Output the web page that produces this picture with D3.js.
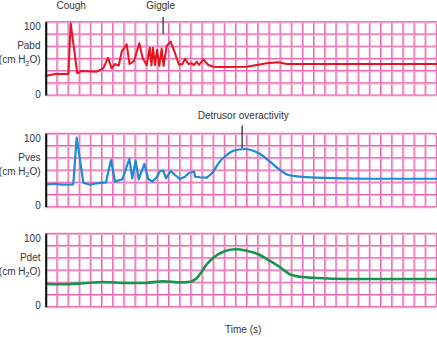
<!DOCTYPE html>
<html>
<head>
<meta charset="utf-8">
<script src="https://cdn.jsdelivr.net/npm/d3@7"></script>
<style>
  html, body { margin: 0; padding: 0; background: #fff; }
  svg { display: block; font-family: "Liberation Sans", Arial, sans-serif; }
</style>
</head>
<body>
<svg id="chart" width="437" height="337"></svg>
<script>
// Time axis: 35 grid divisions across the trace width
const timeDomain = [0, 35];
const pressureDomain = [0, 100];
const pressureTicks = [0, 100];

// Abdominal pressure [time, cmH2O]
const pabd = [
  [0, 25.9], [0.83, 28.6], [2.03, 28.6], [2.24, 97.8], [2.83, 29.6], [3.2, 32.7],
  [4.57, 31.8], [5.16, 36.4], [5.58, 50.9], [5.91, 36.4], [6.21, 42.3], [6.54, 40.0],
  [6.81, 59.1], [7.26, 69.2], [7.51, 42.3], [7.91, 46.4], [8.39, 70.5], [8.69, 50.1],
  [9.05, 40.9], [9.32, 64.5], [9.48, 40.2], [9.61, 64.5], [9.79, 40.9], [9.97, 61.4],
  [10.18, 39.6], [10.39, 63.4], [10.56, 39.6], [10.84, 66.8], [11.2, 72.7], [11.59, 56.9],
  [11.94, 41.3], [12.26, 42.3], [12.48, 49.5], [12.78, 42.3], [13.08, 43.2], [13.29, 40.9],
  [13.53, 45.4], [13.74, 40.9], [14.12, 48.7], [14.57, 40.9], [15.02, 38.6], [15.62, 38.2],
  [18.01, 38.6], [19.8, 43.2], [20.84, 44.6], [21.6, 42.3], [35, 42.3]
];

// Vesical pressure [time, cmH2O]
const pves = [
  [0.15, 30.5], [0.83, 31.3], [1.43, 30.0], [2.47, 30.5], [2.78, 94.0], [3.37, 32.7],
  [3.97, 30.0], [4.57, 31.9], [5.4, 33.2], [5.85, 63.6], [6.21, 34.1], [6.86, 37.3],
  [7.49, 65.0], [7.76, 38.7], [8.06, 62.7], [8.33, 37.3], [8.84, 58.2], [9.19, 37.7],
  [9.55, 34.1], [9.95, 40.1], [10.24, 48.6], [10.54, 49.0], [10.78, 38.7], [11.2, 48.6],
  [11.59, 43.2], [12.03, 37.7], [12.48, 40.9], [12.87, 46.3], [13.29, 47.7], [13.38, 40.9],
  [13.83, 40.1], [14.43, 39.5], [15.02, 47.7], [15.47, 59.1], [16.22, 70.4], [16.81, 76.3],
  [17.86, 78.6], [18.61, 76.3], [19.35, 70.4], [20.1, 61.3], [21.0, 50.0], [21.74, 43.2],
  [22.79, 40.9], [24.28, 39.5], [28.76, 38.1], [35, 38.1]
];

// Detrusor pressure [time, cmH2O]
const pdet = [
  [0.15, 30.9], [1.58, 30.5], [3.37, 31.9], [5.16, 33.7], [7.26, 32.3], [8.75, 32.3],
  [10.54, 34.6], [12.03, 33.2], [12.93, 34.1], [13.53, 38.7], [13.98, 47.7], [14.43, 57.8],
  [15.02, 66.8], [15.91, 74.9], [16.96, 78.2], [18.01, 76.3], [19.05, 71.4], [20.1, 62.3],
  [21.0, 53.7], [21.9, 44.1], [22.79, 40.9], [24.28, 39.1], [27.27, 37.7], [35, 37.7]
];

// smoothFrom: time after which the trace is drawn as a smooth curve (before it, straight segments)
const panels = [
  { name: "Pabd", data: pabd, top: 21.7, bottom: 95, color: "#e5141f", smoothFrom: 35, width: 2 },
  { name: "Pves", data: pves, top: 133.3, bottom: 206.7, color: "#1b8bd3", smoothFrom: 14.43, width: 2.2 },
  { name: "Pdet", data: pdet, top: 233.3, bottom: 306.7, color: "#14964a", smoothFrom: 0, width: 2.6 }
];

const svg = d3.select("#chart");
const x = d3.scaleLinear().domain(timeDomain).range([45.7, 436.3]);
const textColor = "#333";
const fontSize = "10px";

panels.forEach(p => {
  const y = d3.scaleLinear().domain(pressureDomain).range([p.bottom, p.top]);
  const g = svg.append("g");

  // chart-paper grid: soft pink band with a darker magenta core
  const vTicks = d3.range(timeDomain[0], timeDomain[1] + 1, 1);
  const hTicks = d3.range(0, 101, 100 / 6);
  const grid = g.append("g");
  grid.selectAll("line.vs").data(vTicks).join("line")
    .attr("x1", d => x(d) + 0.8).attr("x2", d => x(d) + 0.8)
    .attr("y1", p.top).attr("y2", p.bottom)
    .attr("stroke", "#f5afd6").attr("stroke-width", 1.6);
  grid.selectAll("line.v").data(vTicks).join("line")
    .attr("x1", d => x(d)).attr("x2", d => x(d))
    .attr("y1", p.top).attr("y2", p.bottom)
    .attr("stroke", "#e862af").attr("stroke-width", 1);
  grid.selectAll("line.hs").data(hTicks).join("line")
    .attr("x1", x(timeDomain[0])).attr("x2", x(timeDomain[1]))
    .attr("y1", d => y(d) + 0.8).attr("y2", d => y(d) + 0.8)
    .attr("stroke", "#f5afd6").attr("stroke-width", 1.6);
  grid.selectAll("line.h").data(hTicks).join("line")
    .attr("x1", x(timeDomain[0])).attr("x2", x(timeDomain[1]))
    .attr("y1", d => y(d)).attr("y2", d => y(d))
    .attr("stroke", "#e862af").attr("stroke-width", 1);

  // pressure trace: sharp segments for spikes, smooth curve for slow waves
  const sharp = p.data.filter(d => d[0] <= p.smoothFrom);
  const smooth = p.data.filter(d => d[0] >= p.smoothFrom);
  [[sharp, d3.curveLinear], [smooth, d3.curveMonotoneX]].forEach(([pts, curve]) => {
    if (pts.length < 2) return;
    g.append("path")
      .datum(pts)
      .attr("fill", "none")
      .attr("stroke", p.color)
      .attr("stroke-width", p.width)
      .attr("stroke-linejoin", "round")
      .attr("stroke-linecap", "round")
      .attr("d", d3.line().x(d => x(d[0])).y(d => y(d[1])).curve(curve));
  });

  // left axis with 0 / 100 labels
  const axis = g.append("g")
    .attr("transform", `translate(${x(timeDomain[0])},0)`)
    .call(d3.axisLeft(y).tickValues(pressureTicks).tickSize(0).tickPadding(5));
  axis.select(".domain").attr("stroke", "#111").attr("stroke-width", 2);
  axis.selectAll("text")
    .attr("fill", textColor)
    .style("font-size", fontSize)
    .style("font-family", "Liberation Sans, Arial, sans-serif")
    .attr("dy", d => d === 100 ? "0.8em" : "0.2em");

  // channel name and unit
  g.append("text")
    .attr("x", 40.5).attr("y", p.top + 27.5)
    .attr("text-anchor", "end").attr("fill", textColor).style("font-size", fontSize)
    .text(p.name);
  const unit = g.append("text")
    .attr("x", 40.5).attr("y", p.top + 41.5)
    .attr("text-anchor", "end").attr("fill", textColor).style("font-size", fontSize);
  unit.append("tspan").text("(cm H");
  unit.append("tspan").attr("dy", 2.5).style("font-size", "7px").text("2");
  unit.append("tspan").attr("dy", -2.5).text("O)");
});

// event annotations
function label(text, t, textY) {
  svg.append("text")
    .attr("x", x(t)).attr("y", textY)
    .attr("text-anchor", "middle").attr("fill", textColor).style("font-size", fontSize)
    .text(text);
}
function marker(t, y1, y2) {
  svg.append("line")
    .attr("x1", x(t)).attr("x2", x(t))
    .attr("y1", y1).attr("y2", y2)
    .attr("stroke", "#222").attr("stroke-width", 1.2);
}
label("Cough", 2.28, 9);
label("Giggle", 10.3, 9);
marker(10.52, 17, 34);
label("Detrusor overactivity", 17.7, 119);
marker(17.6, 125.5, 148);

// time axis title
label("Time (s)", 17.7, 333);
</script>
</body>
</html>
